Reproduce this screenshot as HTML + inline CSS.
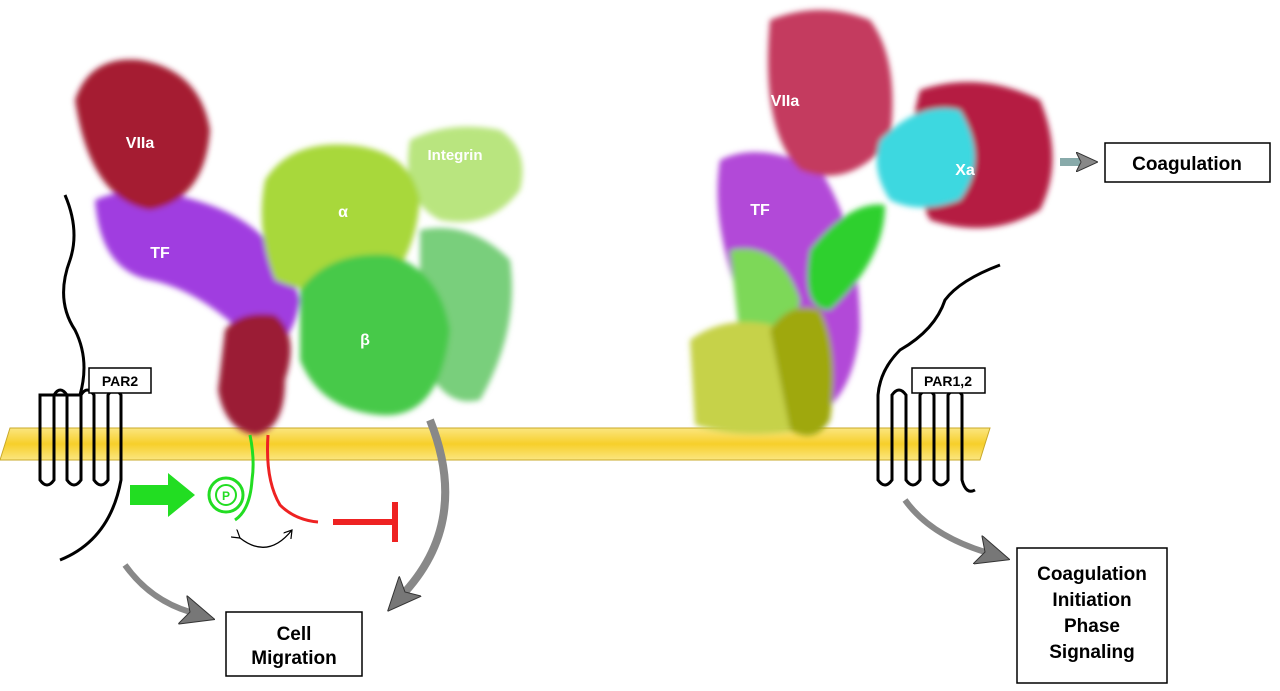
<!DOCTYPE html>
<html><head><meta charset="utf-8"><style>
html,body{margin:0;padding:0;background:#fff;width:1280px;height:691px;overflow:hidden}
svg{display:block}
text{font-family:"Liberation Sans",sans-serif;font-weight:bold}
</style></head><body>
<svg width="1280" height="691" viewBox="0 0 1280 691">
<defs>
<filter id="b" x="-20%" y="-20%" width="140%" height="140%"><feGaussianBlur stdDeviation="3"/></filter>
<linearGradient id="mem" x1="0" y1="0" x2="0" y2="1"><stop offset="0" stop-color="#fbe680"/><stop offset="0.5" stop-color="#f7cf2a"/><stop offset="1" stop-color="#fbe680"/></linearGradient>
<marker id="ah" markerUnits="userSpaceOnUse" markerWidth="34" markerHeight="30" refX="8" refY="15" orient="auto"><path d="M0,0 L34,15 L0,30 L8,15z" fill="#777" stroke="#333" stroke-width="1"/></marker>
<marker id="ah2" markerUnits="userSpaceOnUse" markerWidth="22" markerHeight="20" refX="4" refY="10" orient="auto"><path d="M0,0 L22,10 L0,20 L5,10z" fill="#888" stroke="#333" stroke-width="1"/></marker>
<marker id="sa" markerUnits="userSpaceOnUse" markerWidth="10" markerHeight="10" refX="8" refY="5" orient="auto"><path d="M0,0 L8,5 L0,10" fill="none" stroke="#000" stroke-width="1.2"/></marker>
</defs>
<polygon points="10,428 990,428 980,460 0,460" fill="url(#mem)" stroke="#c9a92a" stroke-width="1"/>

<g filter="url(#b)">
<path d="M410,140 Q450,120 500,130 Q530,150 520,190 Q490,230 440,220 Q400,200 410,140z" fill="#b9e57f"/>
<path d="M420,230 Q470,220 510,260 Q520,330 480,400 Q440,410 420,350z" fill="#79cf7b"/>
<path d="M95,200 Q140,180 210,205 Q280,230 300,300 Q290,360 250,340 Q200,290 150,280 Q100,270 95,200z" fill="#a03ce0"/>
<path d="M75,100 Q90,55 140,60 Q200,70 210,130 Q205,200 150,210 Q90,200 75,100z" fill="#a51d33"/>
<path d="M265,180 Q290,140 350,145 Q410,150 420,200 Q415,260 380,290 Q320,300 275,280 Q255,230 265,180z" fill="#a8d83a"/>
<path d="M300,290 Q330,250 390,255 Q440,270 450,330 Q440,420 380,415 Q320,410 300,360z" fill="#46c94a"/>
<path d="M225,330 Q240,310 275,315 Q300,335 285,380 Q285,430 255,435 Q225,430 218,390z" fill="#9b1d36"/>
</g>
<text x="140" y="148" fill="#fff" font-size="16" text-anchor="middle">VIIa</text>
<text x="160" y="258" fill="#fff" font-size="16" text-anchor="middle">TF</text>
<text x="455" y="160" fill="#fff" font-size="15" text-anchor="middle">Integrin</text>
<text x="343" y="217" fill="#fff" font-size="16" text-anchor="middle">α</text>
<text x="365" y="345" fill="#fff" font-size="16" text-anchor="middle">β</text>

<path d="M250,435 Q255,460 252,480 Q250,510 235,520" fill="none" stroke="#22dd22" stroke-width="3"/>
<path d="M268,435 Q265,480 280,505 Q295,520 318,522" fill="none" stroke="#ee2222" stroke-width="3"/>
<circle cx="226" cy="495" r="17" fill="none" stroke="#22dd22" stroke-width="3"/>
<circle cx="226" cy="495" r="10" fill="none" stroke="#22dd22" stroke-width="2"/>
<text x="226" y="500" font-size="12" fill="#22dd22" text-anchor="middle">P</text>
<polygon points="130,485 168,485 168,473 195,495 168,517 168,505 130,505" fill="#22dd22"/>
<path d="M333,522 L395,522 M395,502 L395,542" stroke="#ee2222" stroke-width="6" fill="none"/>
<path d="M240,538 Q268,560 292,530" fill="none" stroke="#000" stroke-width="1.3" marker-start="url(#sa)" marker-end="url(#sa)"/>

<path d="M65,195 Q80,230 70,260 Q55,300 75,330 Q90,360 80,395 L40,395 L40,480 Q47,490 54,480 L54,395 Q60,385 67,395 L67,480 Q74,490 81,480 L81,395 Q87,385 94,395 L94,480 Q101,490 108,480 L108,395 Q114,385 121,395 L121,480 Q110,540 60,560" fill="none" stroke="#000" stroke-width="3"/>
<rect x="89" y="368" width="62" height="25" fill="#fff" stroke="#000" stroke-width="1.5"/>
<text x="120" y="386" font-size="14" text-anchor="middle">PAR2</text>

<path d="M125,565 Q150,600 190,612" fill="none" stroke="#888" stroke-width="6" marker-end="url(#ah)"/>
<path d="M430,420 Q470,520 405,592" fill="none" stroke="#888" stroke-width="8" marker-end="url(#ah)"/>
<rect x="226" y="612" width="136" height="64" fill="#fff" stroke="#000" stroke-width="1.5"/>
<text x="294" y="640" font-size="19" text-anchor="middle">Cell</text>
<text x="294" y="664" font-size="19" text-anchor="middle">Migration</text>

<g filter="url(#b)">
<path d="M720,160 Q760,140 820,170 Q860,230 860,330 Q850,420 790,420 Q730,390 740,300 Q710,220 720,160z" fill="#b24ad8"/>
<path d="M730,250 Q780,240 800,300 Q790,360 740,340z" fill="#7dd858"/>
<path d="M690,340 Q730,310 790,330 Q830,380 800,430 Q740,440 695,425z" fill="#c6d248"/>
<path d="M770,20 Q820,0 870,20 Q900,60 890,140 Q850,190 800,170 Q760,130 770,20z" fill="#c43a5e"/>
<path d="M920,90 Q980,70 1040,100 Q1065,160 1040,210 Q990,240 930,220 Q900,160 920,90z" fill="#b51e42"/>
<path d="M880,140 Q920,100 960,110 Q990,160 960,200 Q920,215 890,200 Q870,170 880,140z" fill="#3dd8e0"/>
<path d="M810,250 Q850,200 885,205 Q885,260 830,310 Q800,310 810,250z" fill="#2fd02f"/>
<path d="M770,330 Q790,300 820,310 Q840,350 830,420 Q815,445 790,430 Q780,380 770,330z" fill="#9fa810"/>
</g>
<text x="785" y="106" fill="#fff" font-size="16" text-anchor="middle">VIIa</text>
<text x="760" y="215" fill="#fff" font-size="16" text-anchor="middle">TF</text>
<text x="965" y="175" fill="#fff" font-size="16" text-anchor="middle">Xa</text>

<path d="M1060,162 L1080,162" stroke="#8aa" stroke-width="8" marker-end="url(#ah2)"/>
<rect x="1105" y="143" width="165" height="39" fill="#fff" stroke="#000" stroke-width="1.5"/>
<text x="1187" y="170" font-size="19" text-anchor="middle">Coagulation</text>

<path d="M1000,265 Q960,280 945,300 Q935,330 900,350 Q880,370 878,395 L878,480 Q885,490 892,480 L892,395 Q899,385 906,395 L906,480 Q913,490 920,480 L920,395 Q927,385 934,395 L934,480 Q941,490 948,480 L948,395 Q955,385 962,395 L962,480 Q966,495 975,490" fill="none" stroke="#000" stroke-width="3"/>
<rect x="912" y="368" width="73" height="25" fill="#fff" stroke="#000" stroke-width="1.5"/>
<text x="948" y="386" font-size="14" text-anchor="middle">PAR1,2</text>
<path d="M905,500 Q930,535 985,552" fill="none" stroke="#888" stroke-width="6" marker-end="url(#ah)"/>
<rect x="1017" y="548" width="150" height="135" fill="#fff" stroke="#000" stroke-width="1.5"/>
<text x="1092" y="580" font-size="19" text-anchor="middle">Coagulation</text>
<text x="1092" y="606" font-size="19" text-anchor="middle">Initiation</text>
<text x="1092" y="632" font-size="19" text-anchor="middle">Phase</text>
<text x="1092" y="658" font-size="19" text-anchor="middle">Signaling</text>
</svg>
</body></html>
